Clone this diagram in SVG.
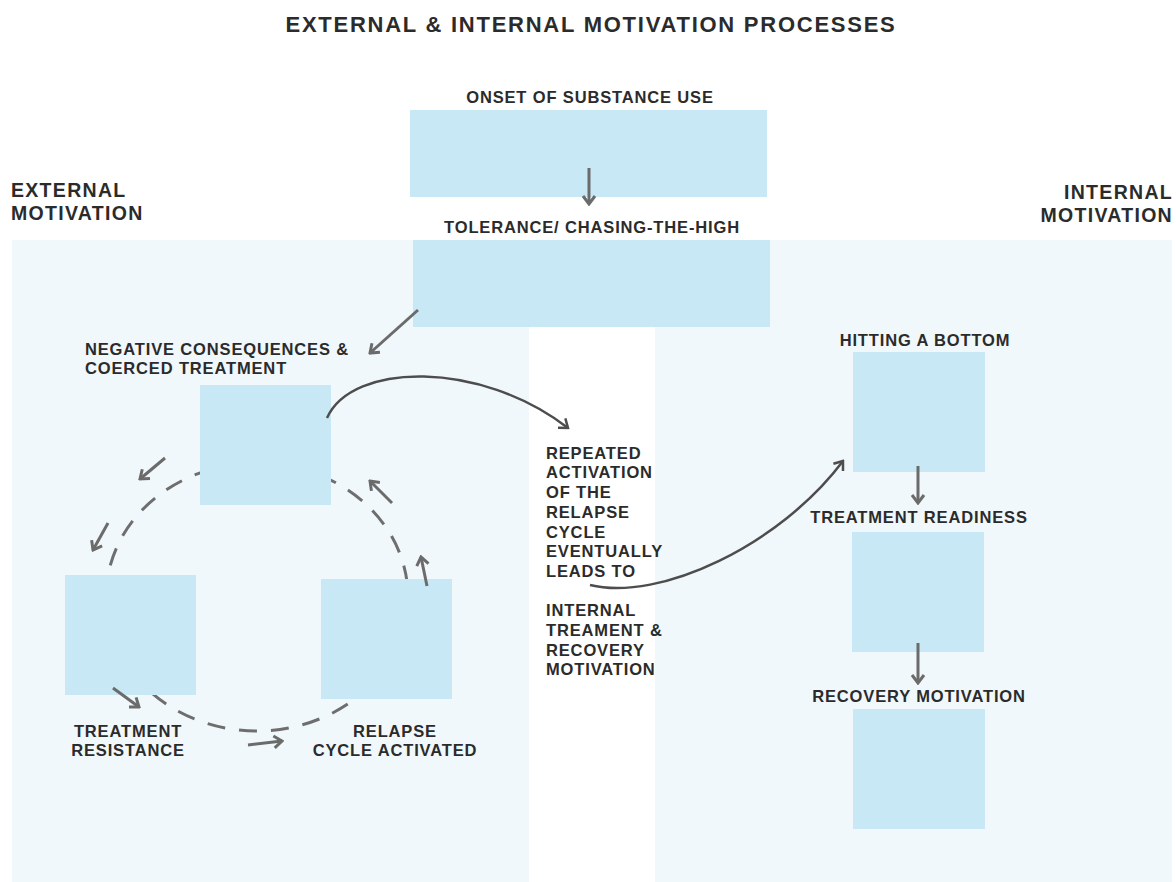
<svg xmlns="http://www.w3.org/2000/svg" width="1176" height="882" viewBox="0 0 1176 882">
<defs>
<style>
.bg{fill:#f1f8fc}
.box{fill:#c8e8f5}
.t{font-family:"Liberation Sans",Arial,sans-serif;font-weight:bold;fill:#2b2b2b;font-size:16.5px;letter-spacing:0.85px}
.tm{text-anchor:middle}
.h{font-size:19.5px;letter-spacing:1.3px}
.title{font-size:22px;letter-spacing:1.75px;text-anchor:middle}
.arr{fill:none;stroke:#6b6b6b;stroke-width:3;marker-end:url(#ah)}
.curve{fill:none;stroke:#4d4d4d;stroke-width:2.5;marker-end:url(#ah2)}
.dash{fill:none;stroke:#6e6e6e;stroke-width:3;stroke-dasharray:18 14}
</style>
<marker id="ah" viewBox="-10 -8 12 16" markerWidth="12" markerHeight="16" refX="0" refY="0" orient="auto" markerUnits="userSpaceOnUse">
<path d="M-8,-6 L0,0 L-8,6" fill="none" stroke="#6b6b6b" stroke-width="3"/>
</marker>
<marker id="ah2" viewBox="-10 -8 12 16" markerWidth="12" markerHeight="16" refX="0" refY="0" orient="auto" markerUnits="userSpaceOnUse">
<path d="M-8,-6 L0,0 L-8,6" fill="none" stroke="#4d4d4d" stroke-width="2.5"/>
</marker>
</defs>
<rect width="1176" height="882" fill="#ffffff"/>
<g id="panels">
<rect class="bg" x="12" y="240" width="517" height="642"/>
<rect class="bg" x="655" y="240" width="517" height="642"/>
<rect class="bg" x="529" y="240" width="126" height="87"/>
</g>
<text class="t title" x="591" y="32">EXTERNAL &amp; INTERNAL MOTIVATION PROCESSES</text>
<g id="external-label">
<text class="t h" x="11" y="197">EXTERNAL</text>
<text class="t h" x="11" y="220">MOTIVATION</text>
</g>
<g id="internal-label">
<text class="t h" x="1173" y="199" text-anchor="end">INTERNAL</text>
<text class="t h" x="1173" y="222" text-anchor="end">MOTIVATION</text>
</g>
<g id="cycle-ring">
<ellipse class="dash" cx="257" cy="597" rx="151" ry="134"/>
</g>
<g id="onset">
<rect class="box" x="410" y="110" width="357" height="87"/>
<text class="t tm" x="590" y="103">ONSET OF SUBSTANCE USE</text>
</g>
<g id="tolerance">
<rect class="box" x="413" y="240" width="357" height="87"/>
<text class="t tm" x="592" y="233">TOLERANCE/ CHASING-THE-HIGH</text>
</g>
<g id="negative">
<rect class="box" x="200" y="385" width="131" height="120"/>
<text class="t" x="85" y="355">NEGATIVE CONSEQUENCES &amp;</text>
<text class="t" x="85" y="374">COERCED TREATMENT</text>
</g>
<g id="resistance">
<rect class="box" x="65" y="575" width="131" height="120"/>
<text class="t tm" x="128" y="737">TREATMENT</text>
<text class="t tm" x="128" y="756">RESISTANCE</text>
</g>
<g id="relapse">
<rect class="box" x="321" y="579" width="131" height="120"/>
<text class="t tm" x="395" y="737">RELAPSE</text>
<text class="t tm" x="395" y="756">CYCLE ACTIVATED</text>
</g>
<g id="middle-text">
<text class="t" x="546" y="459">REPEATED</text>
<text class="t" x="546" y="478">ACTIVATION</text>
<text class="t" x="546" y="498">OF THE</text>
<text class="t" x="546" y="518">RELAPSE</text>
<text class="t" x="546" y="538">CYCLE</text>
<text class="t" x="546" y="557">EVENTUALLY</text>
<text class="t" x="546" y="577">LEADS TO</text>
<text class="t" x="546" y="616">INTERNAL</text>
<text class="t" x="546" y="636">TREAMENT &amp;</text>
<text class="t" x="546" y="656">RECOVERY</text>
<text class="t" x="546" y="675">MOTIVATION</text>
</g>
<g id="bottom">
<rect class="box" x="853" y="352" width="132" height="120"/>
<text class="t tm" x="925" y="346">HITTING A BOTTOM</text>
</g>
<g id="readiness">
<rect class="box" x="852" y="532" width="132" height="120"/>
<text class="t tm" x="919" y="523">TREATMENT READINESS</text>
</g>
<g id="recovery">
<rect class="box" x="853" y="709" width="132" height="120"/>
<text class="t tm" x="919" y="702">RECOVERY MOTIVATION</text>
</g>
<g id="connectors">
<line class="arr" x1="589" y1="168" x2="589" y2="204"/>
<line class="arr" x1="418" y1="310" x2="370" y2="353"/>
<line class="arr" x1="918" y1="466" x2="918" y2="503"/>
<line class="arr" x1="918" y1="643" x2="918" y2="683"/>
<line class="arr" x1="165" y1="458" x2="140" y2="479"/>
<line class="arr" x1="108" y1="523" x2="93" y2="550"/>
<line class="arr" x1="113" y1="688" x2="139" y2="707"/>
<line class="arr" x1="248" y1="745" x2="282" y2="741"/>
<line class="arr" x1="427" y1="586" x2="421" y2="557"/>
<line class="arr" x1="392" y1="503" x2="370" y2="481"/>
<path class="curve" d="M327,418 C352,362 480,360 568,428"/>
<path class="curve" d="M590,585 C660,602 780,545 843,461"/>
</g>
</svg>
